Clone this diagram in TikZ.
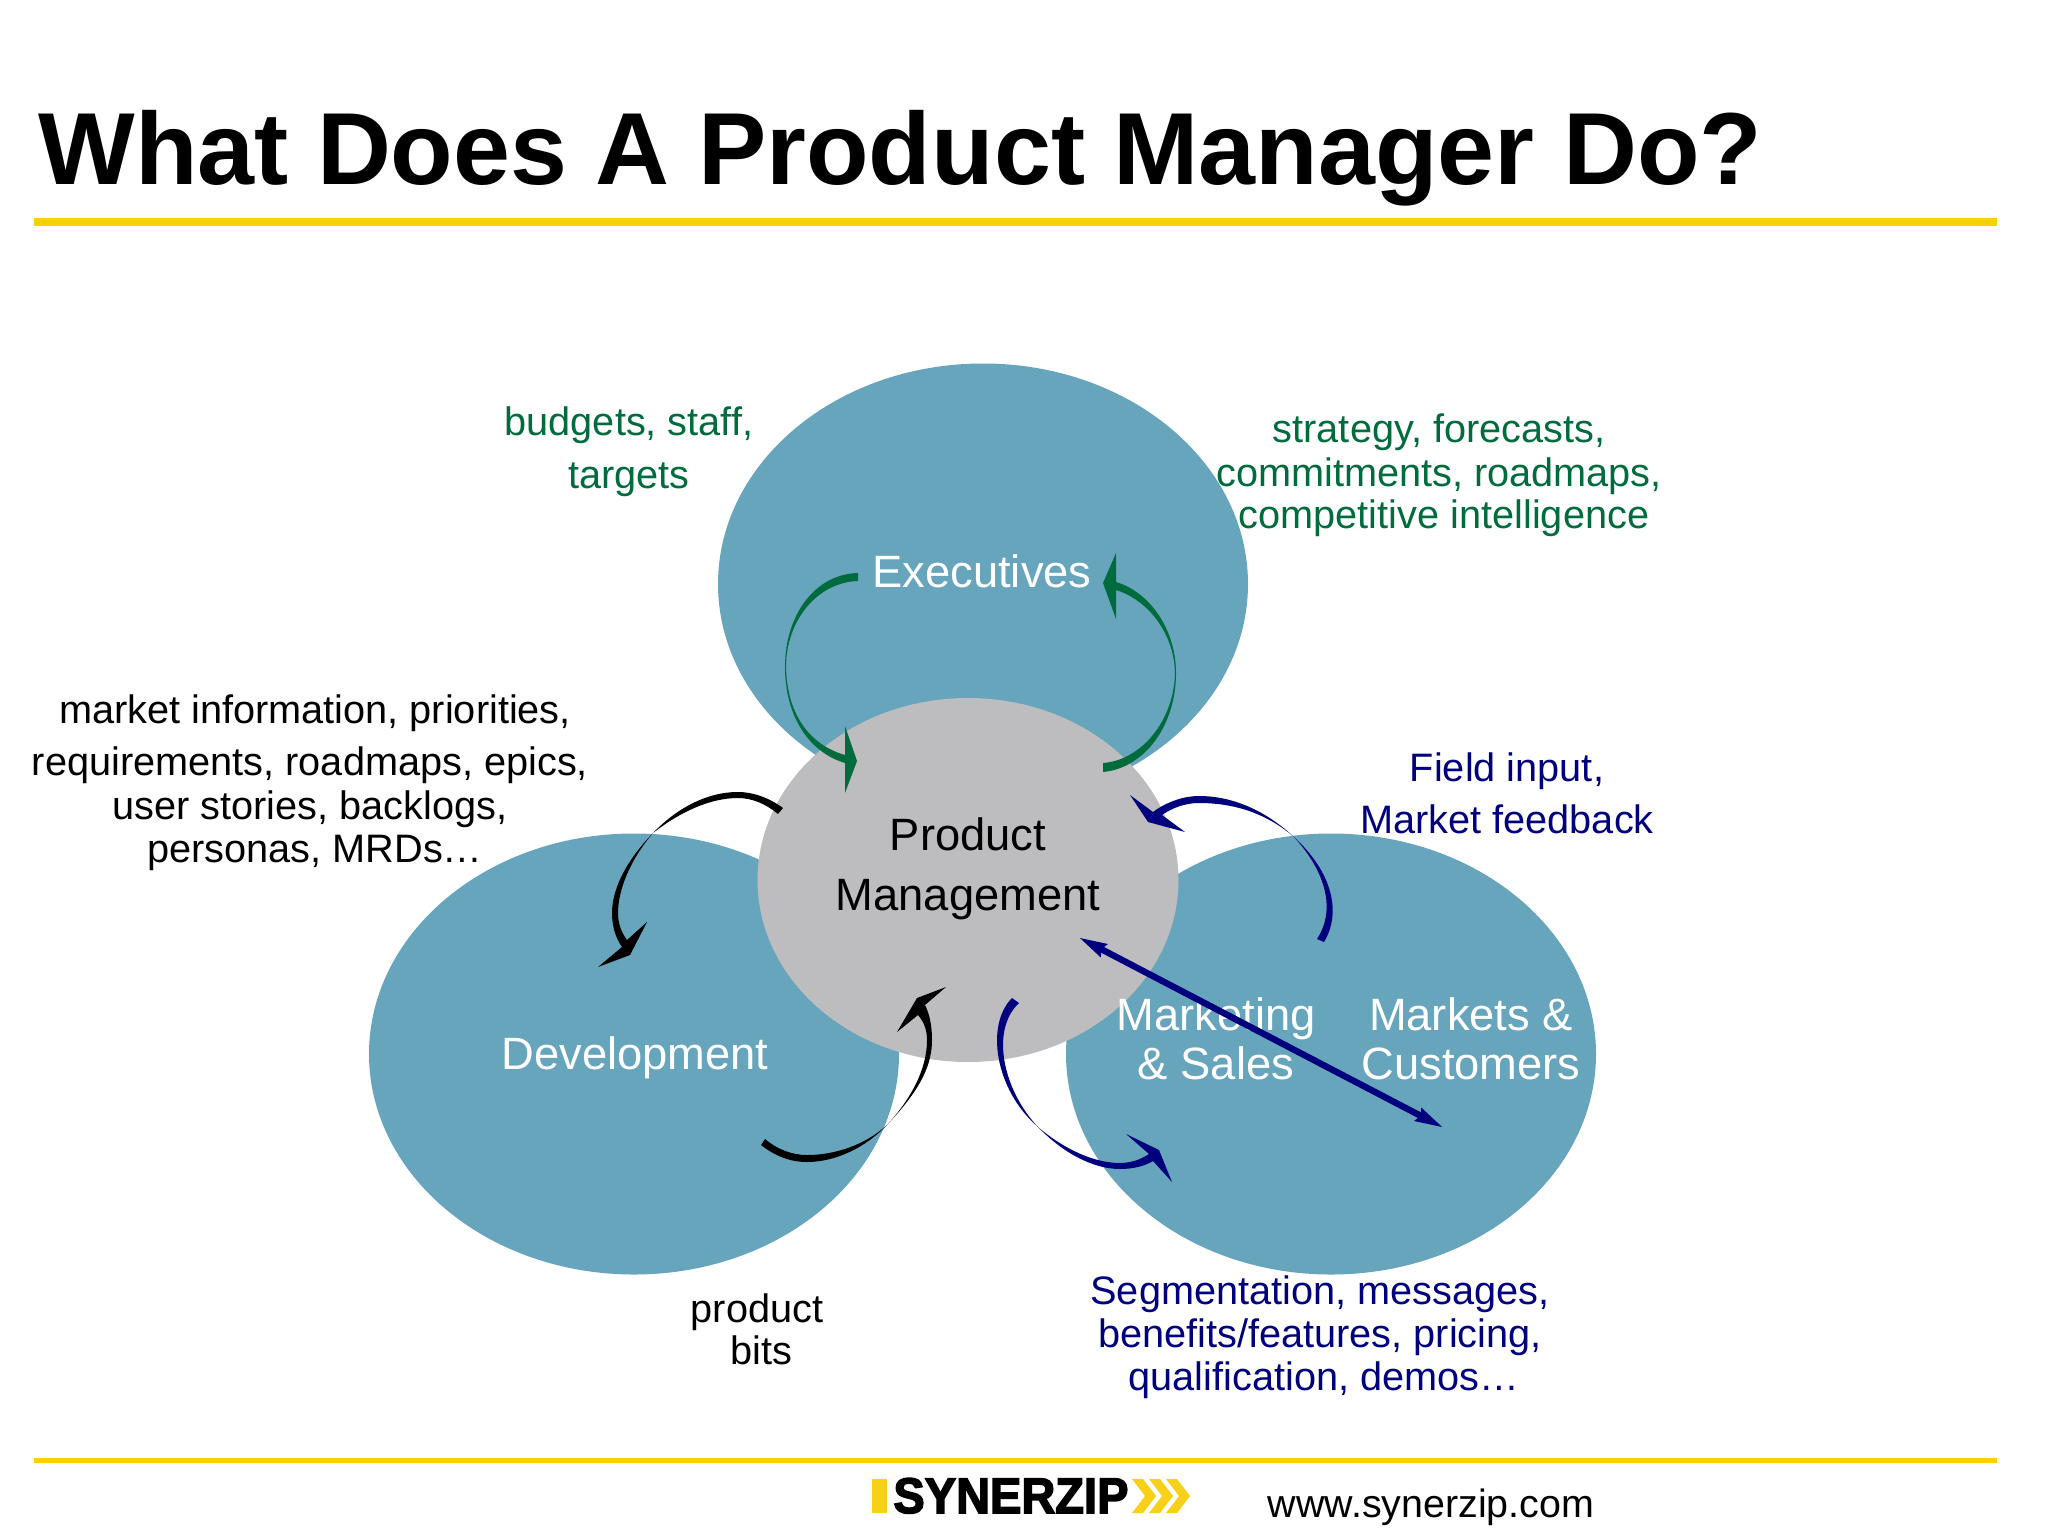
\documentclass[tikz,border=0pt]{standalone}
\usepackage{fontspec}
\setmainfont{Liberation Sans}
\newfontfamily\logofont[FakeStretch=0.94,FakeBold=3]{Liberation Sans}
\usetikzlibrary{shapes.geometric}
\usetikzlibrary{arrows.meta}
\definecolor{tealblob}{HTML}{67A5BD}
\definecolor{greyblob}{HTML}{BDBCBE}
\definecolor{rulegold}{HTML}{FCCF00}
\definecolor{logogold}{HTML}{F7D117}
\definecolor{pmgreen}{HTML}{006B3C}
\definecolor{pmnavy}{HTML}{00007F}

\begin{document}
\begin{tikzpicture}[x=0.5pt,y=-0.5pt]

\tikzset{
blob/.style = {ellipse,inner sep=0pt,outer sep=0pt,minimum width=530*0.5pt,minimum height=441*0.5pt,fill=tealblob},
big/.style = {inner sep=0pt,anchor=base,text=white,font=\fontsize{22.65}{26}\selectfont},
small/.style = {inner sep=0pt,anchor=base,font=\fontsize{19.85}{24}\selectfont}
}

\useasboundingbox (0,0) rectangle (2048,1536);

\node[inner sep=0pt,anchor=base west,font=\fontsize{51.2}{60}\selectfont\bfseries] (title) at (38,184) {What Does A Product Manager Do?};
\fill[rulegold] (34,218) rectangle (1997,226);
\fill[rulegold] (34,1458) rectangle (1997,1463);

% the four ellipses
\node[blob] (execs) at (983,584) {};
\node[blob] (dev) at (634,1054) {};
\node[blob] (mkt) at (1331,1054) {};
\node[ellipse,inner sep=0pt,outer sep=0pt,minimum width=421*0.5pt,minimum height=364*0.5pt,fill=greyblob] (pm) at (968,880) {};

\node[big] (execstxt) at (982,587) {Executives};
\node[big,text=black] (pmtxta) at (968,850) {Product};
\node[big,text=black] (pmtxtb) at (968,910) {Management};
\node[big] (devtxt) at (635,1069) {Development};
\node[big] (msa) at (1216,1030) {Marketing};
\node[big] (msb) at (1216,1079) {\& Sales};
\node[big] (mca) at (1471,1030) {Markets \&};
\node[big] (mcb) at (1471,1079) {Customers};

% green text
\node[small,text=pmgreen] (budgeta) at (629,435) {budgets, staff,};
\node[small,text=pmgreen] (budgetb) at (629,488) {targets};
\node[small,text=pmgreen] (strata) at (1439,442) {strategy, forecasts,};
\node[small,text=pmgreen] (stratb) at (1439,486) {commitments, roadmaps,};
\node[small,text=pmgreen] (stratc) at (1444,528) {competitive intelligence};

% black text
\node[small] (infoa) at (315,723) {market information, priorities,};
\node[small] (infob) at (310,775) {requirements, roadmaps, epics,};
\node[small] (infoc) at (310,819) {user stories, backlogs,};
\node[small] (infod) at (315,862) {personas, MRDs\ldots};
\node[small] (bitsa) at (757,1322) {product};
\node[small] (bitsb) at (761,1364) {bits};

% blue text
\node[small,text=pmnavy] (fielda) at (1507,781) {Field input,};
\node[small,text=pmnavy] (fieldb) at (1507,833) {Market feedback};
\node[small,text=pmnavy] (sega) at (1320,1304) {Segmentation, messages,};
\node[small,text=pmnavy] (segb) at (1320,1347) {benefits/features, pricing,};
\node[small,text=pmnavy] (segc) at (1324,1390) {qualification, demos\ldots};

% green arcs
\fill[pmgreen] (858,573) .. controls (815,574) and (785,615) .. (785,667) .. controls (785,715) and (808,752) .. (845,763) -- (845,793) -- (857,761) -- (845,726) -- (845,755) .. controls (810,745) and (787,715) .. (786,667) .. controls (786,620) and (818,582) .. (858,581) -- cycle;
\fill[pmgreen] (1103,772) .. controls (1145,768) and (1176,725) .. (1176,673) .. controls (1176,630) and (1150,592) .. (1116,582) -- (1116,553) -- (1103,583) -- (1116,619) -- (1116,590) .. controls (1148,600) and (1174,633) .. (1175,673) .. controls (1174,720) and (1142,760) .. (1103,763) -- cycle;

% black arcs
\fill[black] (783,808) .. controls (768,797) and (752,792) .. (738,792) .. controls (705,792) and (675,810) .. (653,833) .. controls (625,862) and (612,890) .. (612,913) .. controls (612,925) and (615,937) .. (622,947) -- (598,967) -- (630,955) -- (647,922) -- (627,940) .. controls (621,932) and (618,923) .. (618,913) .. controls (618,890) and (630,860) .. (653,833) .. controls (680,812) and (710,798) .. (738,798) .. controls (752,798) and (766,804) .. (778,814) -- cycle;
\fill[black] (761,1145) .. controls (775,1156) and (790,1162) .. (807,1162) .. controls (835,1162) and (865,1148) .. (887,1125) .. controls (915,1095) and (932,1070) .. (932,1040) .. controls (932,1027) and (930,1015) .. (925,1005) -- (946,987) -- (917,998) -- (897,1032) -- (918,1015) .. controls (924,1022) and (927,1030) .. (927,1040) .. controls (927,1070) and (910,1100) .. (887,1125) .. controls (865,1145) and (835,1155) .. (807,1155) .. controls (793,1155) and (778,1150) .. (765,1139) -- cycle;

% blue arcs
\fill[pmnavy] (1324,942) .. controls (1342,912) and (1332,872) .. (1294,837) .. controls (1265,810) and (1232,796) .. (1199,796) .. controls (1182,796) and (1165,803) .. (1153,812) -- (1130,795) -- (1148,822) -- (1185,832) -- (1162,815) .. controls (1172,808) and (1185,803) .. (1199,803) .. controls (1232,803) and (1265,812) .. (1294,837) .. controls (1326,872) and (1336,910) .. (1317,939) -- cycle;
\fill[pmnavy] (1012,998) .. controls (985,1025) and (995,1090) .. (1038,1127) .. controls (1065,1155) and (1095,1169) .. (1120,1169) .. controls (1133,1169) and (1145,1166) .. (1153,1161) -- (1172,1182) -- (1159,1150) -- (1126,1134) -- (1149,1154) .. controls (1140,1160) and (1130,1163) .. (1120,1163) .. controls (1095,1163) and (1065,1150) .. (1038,1127) .. controls (1003,1090) and (990,1030) .. (1019,1003) -- cycle;

% double arrow
\coordinate (tipa) at (1078,937);
\coordinate (tipb) at (1444,1128);
\draw[pmnavy,line width=3.2pt,{Stealth[length=14pt,width=6.5pt,inset=1pt]}-{Stealth[length=14pt,width=6.5pt,inset=1pt]}] (tipa) -- (tipb);

% logo
\fill[logogold] (872,1479) rectangle (887,1513);
\node[inner sep=0pt,anchor=base west,font=\fontsize{25}{30}\logofont\bfseries] (logo) at (893,1513) {SYNERZIP};
\foreach \i in {0,1,2}{
\fill[logogold] (1132+\i*17,1479) -- (1143+\i*17,1479) -- (1156+\i*17,1496) -- (1143+\i*17,1513) -- (1132+\i*17,1513) -- (1145+\i*17,1496) -- cycle;
}
\node[inner sep=0pt,anchor=base,font=\fontsize{19.7}{24}\selectfont] (url) at (1431,1517) {www.synerzip.com};

\end{tikzpicture}
\end{document}
